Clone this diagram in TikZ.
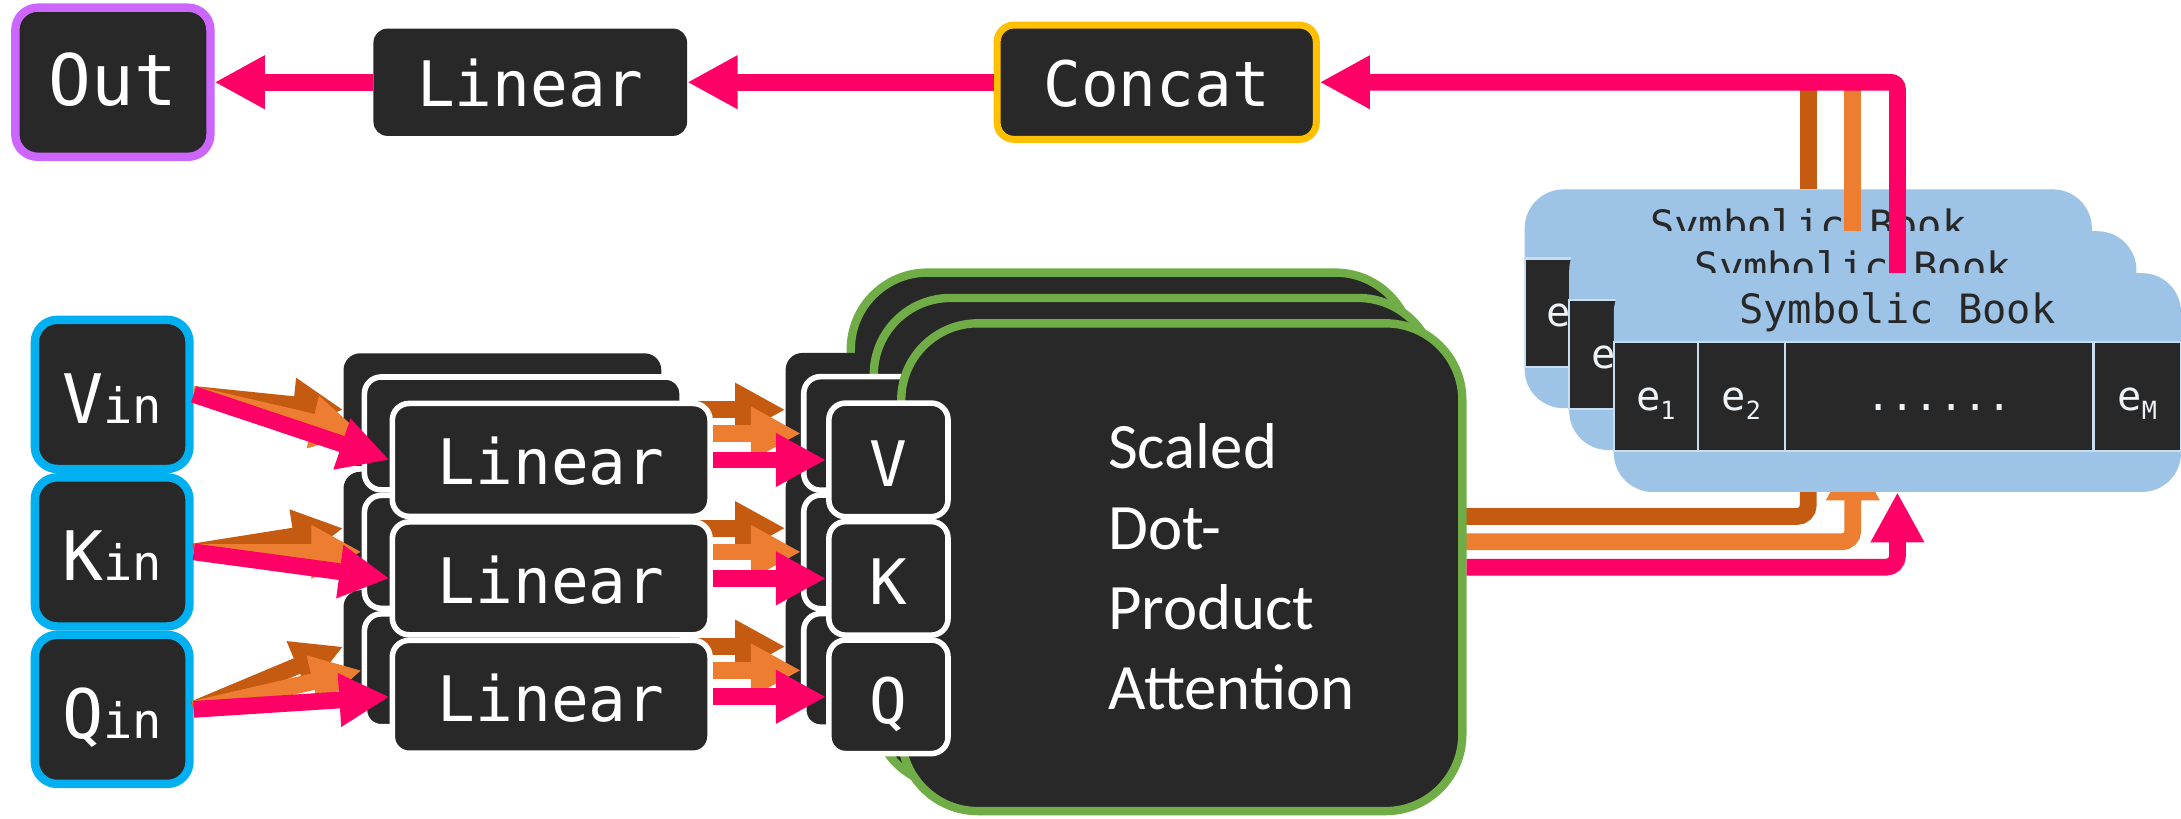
\documentclass[tikz,border=0pt]{standalone}
\usepackage{fontspec}
\usetikzlibrary{arrows.meta}
\newfontfamily\monof{DejaVu Sans Mono}
\newfontfamily\attf{Carlito}
\definecolor{boxfill}{HTML}{282828}
\definecolor{pinkc}{HTML}{FF0066}
\definecolor{dorange}{HTML}{C55A11}
\definecolor{lorange}{HTML}{ED7D31}
\definecolor{cyanc}{HTML}{00B0F0}
\definecolor{greenc}{HTML}{70AD47}
\definecolor{yellowc}{HTML}{FFC000}
\definecolor{purplec}{HTML}{CC66FF}
\definecolor{bookc}{HTML}{9DC3E6}
\definecolor{cellline}{HTML}{C9DDF0}
\definecolor{celltext}{HTML}{EEF3F8}
\newcommand\esub[1]{\raisebox{-6.5pt}{\fontsize{18}{18}\selectfont #1}}
\newcommand\SymBook[3]{%
  \node[book] (#1) at (#2,#3) {};
  \node[booktitle, anchor=base] (#1t) at (#2,#3-42.5) {Symbolic Book};
  \node[cell, minimum width=60.3pt] (#1c1) at (#2-173.35,#3+10.1) {e\esub{1}};
  \node[cell, minimum width=62.4pt] (#1c2) at (#2-112,#3+10.1) {e\esub{2}};
  \node[cell, minimum width=221.5pt] (#1c3) at (#2+29.95,#3+10.1) {......};
  \node[cell, minimum width=62.8pt] (#1cm) at (#2+172.1,#3+10.1) {e\esub{M}};
}
\begin{document}
\begin{tikzpicture}[x=1pt,y=-1pt,
  dbox/.style={rectangle, fill=boxfill, inner sep=0pt, text=white, font=\monof},
  outbox/.style={dbox, draw=purplec, line width=6pt, rounded corners=16pt,
    minimum width=140pt, minimum height=107pt,
    font={\monof\fontsize{51}{51}\selectfont}, text height=33pt, text depth=0pt},
  toplin/.style={dbox, rounded corners=10pt, minimum width=225pt, minimum height=77pt,
    font={\monof\fontsize{45}{45}\selectfont}, text height=35pt, text depth=0pt},
  concatbox/.style={dbox, draw=yellowc, line width=5pt, rounded corners=12pt,
    minimum width=229pt, minimum height=82pt,
    font={\monof\fontsize{45}{45}\selectfont}, text height=35pt, text depth=0pt},
  inbox/.style={dbox, draw=cyanc, line width=6pt, rounded corners=16pt,
    minimum width=111pt, minimum height=107pt,
    font={\monof\fontsize{49}{49}\selectfont}, text height=41.6pt, text depth=0pt},
  linback/.style={dbox, rounded corners=12pt, minimum width=228pt, minimum height=81pt},
  linmid/.style={linback, draw=white, line width=4pt},
  linfront/.style={linmid, font={\monof\fontsize{45}{45}\selectfont}, text height=35.4pt, text depth=0pt},
  vkqback/.style={dbox, rounded corners=12pt, minimum width=85.5pt, minimum height=81.5pt},
  vkqmid/.style={vkqback, draw=white, line width=4pt},
  vkqfront/.style={vkqmid, font={\monof\fontsize{45}{45}\selectfont}, text height=37.6pt, text depth=0pt},
  att/.style={rectangle, fill=boxfill, draw=greenc, line width=6pt, rounded corners=55pt,
    minimum width=402.6pt, minimum height=350pt, inner sep=0pt},
  book/.style={rectangle, fill=bookc, rounded corners=28pt, minimum width=407pt,
    minimum height=157pt, inner sep=0pt},
  booktitle/.style={inner sep=0pt, text=boxfill, font={\monof\fontsize{29}{29}\selectfont}},
  cell/.style={rectangle, fill=boxfill, draw=cellline, line width=1.5pt, minimum height=78pt,
    inner sep=0pt, text=celltext, font={\monof\fontsize{29}{29}\selectfont},
    text height=20pt, text depth=0.8pt},
  arrP/.style={draw=pinkc, line width=12pt, -{Triangle[length=36pt,width=36pt]}},
  arrO/.style={draw=lorange, line width=12pt, -{Triangle[length=36pt,width=36pt]}},
  arrD/.style={draw=dorange, line width=12pt, -{Triangle[length=36pt,width=36pt]}},
  lineO/.style={draw=lorange, line width=12pt},
  lineD/.style={draw=dorange, line width=12pt}
]
\useasboundingbox (0,0) rectangle (1565,587);
\fill[white] (0,0) rectangle (1565,587);

% ---- top row
\node[outbox] (out) at (81,59) {Out};
\node[toplin] (tlin) at (380.5,59) {Linear};
\node[concatbox] (concat) at (830,59) {Concat};
\draw[arrP] (tlin.west) -- (out.east);
\draw[arrP] (concat.west) -- (tlin.east);

% ---- inputs
\node[inbox] (vin) at (80.5,283) {V\fontsize{35}{35}\selectfont in};
\node[inbox] (kin) at (80.5,396) {K\fontsize{35}{35}\selectfont in};
\node[inbox] (qin) at (80.5,509) {Q\fontsize{35}{35}\selectfont in};

% ---- back layer
\node[linback] (lvb) at (360.5,294) {};
\node[linback] (lkb) at (360.5,379) {};
\node[linback] (lqb) at (360.5,464) {};
\node[att] (attb) at (811.8,370.6) {};
\node[vkqback] (vb) at (606.5,294) {};
\node[vkqback] (kb) at (606.5,379) {};
\node[vkqback] (qb) at (606.5,464) {};
\SymBook{bka}{1297.5}{214.4}

\draw[arrD] (vin.east) -- (lvb.west);
\draw[arrD] (kin.east) -- (lkb.west);
\draw[arrD] (qin.east) -- (lqb.west);
\draw[arrD] (lvb.east) -- (vb.west);
\draw[arrD] (lkb.east) -- (kb.west);
\draw[arrD] (lqb.east) -- (qb.west);
\draw[arrD, rounded corners=8pt] (attb.east) -| (bka.south);
\draw[lineD] (bka.north) -- (bka.north |- concat.east);

% ---- middle layer
\node[linmid] (lvm) at (375.5,311) {};
\node[linmid] (lkm) at (375.5,396) {};
\node[linmid] (lqm) at (375.5,481) {};
\node[att] (attm) at (828.3,388.8) {};
\node[vkqmid] (vm) at (619.5,311) {};
\node[vkqmid] (km) at (619.5,396) {};
\node[vkqmid] (qm) at (619.5,481) {};
\SymBook{bkb}{1329.5}{244.4}

\draw[arrO] (vin.east) -- (lvm.west);
\draw[arrO] (kin.east) -- (lkm.west);
\draw[arrO] (qin.east) -- (lqm.west);
\draw[arrO] (lvm.east) -- (vm.west);
\draw[arrO] (lkm.east) -- (km.west);
\draw[arrO] (lqm.east) -- (qm.west);
\draw[arrO, rounded corners=8pt] (attm.east) -| (bkb.south);
\draw[lineO] (bkb.north) -- (bkb.north |- concat.east);

% ---- front layer
\node[linfront] (lvf) at (395.5,330) {Linear};
\node[linfront] (lkf) at (395.5,415) {Linear};
\node[linfront] (lqf) at (395.5,500) {Linear};
\node[att] (attf) at (848,407) {};
\node[anchor=base west, inner sep=0pt, text=white,
  font={\attf\fontsize{46.5}{57.5}\selectfont}] (attxt) at (795,336.5)
  {\vtop{\hbox{Scaled}\hbox{Dot-}\hbox{Product}\hbox{Attention}}};
\node[vkqfront] (vf) at (637.5,330) {V};
\node[vkqfront] (kf) at (637.5,415) {K};
\node[vkqfront] (qf) at (637.5,500) {Q};
\SymBook{bkc}{1361.5}{274.5}

\draw[arrP] (vin.east) -- (lvf.west);
\draw[arrP] (kin.east) -- (lkf.west);
\draw[arrP] (qin.east) -- (lqf.west);
\draw[arrP] (lvf.east) -- (vf.west);
\draw[arrP] (lkf.east) -- (kf.west);
\draw[arrP] (lqf.east) -- (qf.west);
\draw[arrP, rounded corners=8pt] (attf.east) -| (bkc.south);
\draw[arrP, rounded corners=5pt] (bkc.north) |- (concat.east);
\end{tikzpicture}
\end{document}
